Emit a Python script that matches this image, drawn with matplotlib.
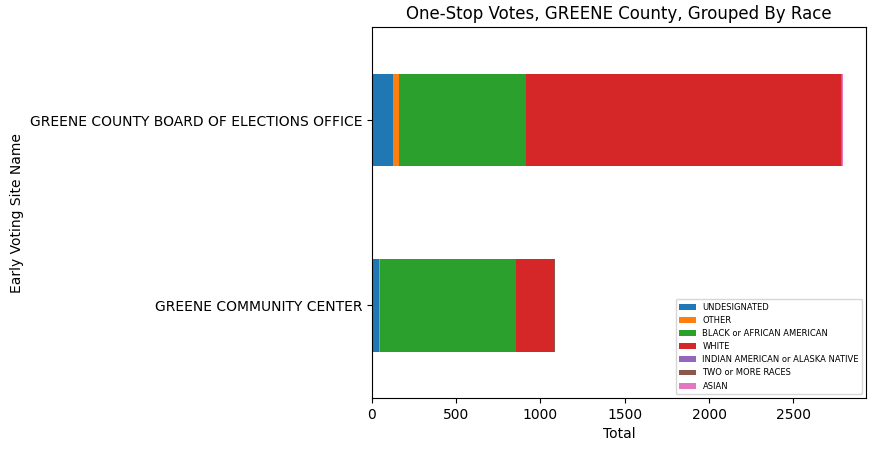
import numpy as np
import pandas as pd
import matplotlib.pyplot as plt

sites = ["GREENE COMMUNITY CENTER", "GREENE COUNTY BOARD OF ELECTIONS OFFICE"]
races = ["UNDESIGNATED", "OTHER", "BLACK or AFRICAN AMERICAN", "WHITE",
         "INDIAN AMERICAN or ALASKA NATIVE", "TWO or MORE RACES", "ASIAN"]
undesignated = [45, 125]
other = [6, 35]
black = [806, 756]
white = [225, 1867]
indian = [1, 3]
two_more = [2, 5]
asian = [1, 3]

df = pd.DataFrame([undesignated, other, black, white, indian, two_more, asian],
                  index=races, columns=sites).T

fig, ax = plt.subplots(figsize=(8.77, 4.55), dpi=100)
df.plot(kind="barh", stacked=True, ax=ax)
ax.set_title("One-Stop Votes, GREENE County, Grouped By Race")
ax.set_xlabel("Total")
ax.set_ylabel("Early Voting Site Name")
ax.legend(loc="lower right", fontsize=6)
fig.subplots_adjust(left=0.424, right=0.988, top=0.94, bottom=0.125)
fig.savefig("out.png")
